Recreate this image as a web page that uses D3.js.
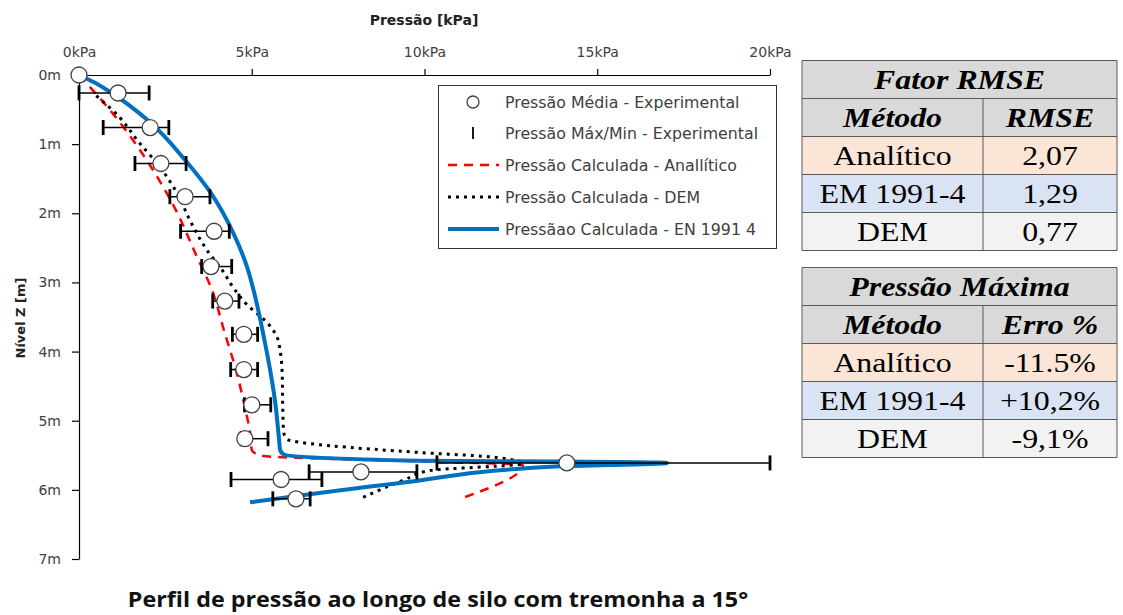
<!DOCTYPE html>
<html><head><meta charset="utf-8">
<script src="https://cdn.jsdelivr.net/npm/d3@7"></script>
<style>
body{margin:0;background:#fff;}
svg{display:block;}
</style></head>
<body>
<svg id="chart" width="1123" height="615"></svg>
<script>
// ---- data ----
const xTicks = [0, 5, 10, 15, 20];           // kPa
const yTicks = [0, 1, 2, 3, 4, 5, 6, 7];     // m
// experimental: mean pressure, depth, min, max
const expMean  = [0, 1.13, 2.06, 2.37, 3.07, 3.91, 3.82, 4.22, 4.77, 4.77, 5.0, 4.8, 14.12, 8.16, 5.85, 6.28];
const expDepth = [0, 0.26, 0.76, 1.28, 1.76, 2.26, 2.77, 3.27, 3.75, 4.26, 4.77, 5.26, 5.61, 5.74, 5.85, 6.13];
const expMin   = [0, 0, 0.7, 1.62, 2.63, 2.94, 3.55, 3.87, 4.44, 4.39, 4.79, 4.69, 10.36, 6.66, 4.4, 5.61];
const expMax   = [0, 2.03, 2.6, 3.1, 3.79, 4.35, 4.42, 4.63, 5.17, 5.17, 5.55, 5.47, 20.0, 9.78, 7.03, 6.69];
// analytical (red dashed)
const anaP = [0, 0.9, 1.56, 2.26, 2.84, 3.36, 3.85, 4.2, 4.55, 4.8, 4.95, 5.0, 5.18, 5.33, 9.87, 12.85, 11.03];
const anaZ = [0, 0.51, 0.94, 1.47, 1.99, 2.57, 3.11, 3.7, 4.28, 4.8, 5.17, 5.42, 5.49, 5.51, 5.59, 5.64, 6.13];
// DEM (black dotted)
const demP = [0.5, 1.19, 1.68, 2.34, 2.84, 3.21, 3.7, 4.14, 4.5, 4.86, 5.44, 5.76, 5.88, 5.9, 5.92, 6.0, 9.87, 11.84, 12.85, 10.16, 9.44, 8.22];
const demZ = [0.3, 0.62, 0.94, 1.33, 1.71, 2.1, 2.53, 2.82, 3.1, 3.32, 3.58, 3.83, 4.31, 4.88, 5.15, 5.26, 5.46, 5.52, 5.62, 5.72, 5.85, 6.11];
// EN 1991-4 (blue solid)
const enP = [0, 0.45, 0.9, 2.05, 3.07, 3.82, 4.46, 4.86, 5.12, 5.35, 5.53, 5.67, 5.79, 5.82, 5.93, 9.87, 13.92, 17.02, 13.92, 9.29, 4.95];
const enZ = [0, 0.11, 0.246, 0.68, 1.23, 1.71, 2.28, 2.77, 3.25, 3.79, 4.26, 4.70, 5.27, 5.42, 5.49, 5.58, 5.59, 5.61, 5.66, 5.90, 6.18];

const legendLabels = ["Pressão Média - Experimental", "Pressão Máx/Min - Experimental",
  "Pressão Calculada - Anallítico", "Pressão Calculada - DEM", "Pressãao Calculada - EN 1991 4"];

const rmseTitle = "Fator RMSE";
const rmseHeader = ["Método", "RMSE"];
const methods = ["Analítico", "EM 1991-4", "DEM"];
const rmseValues = ["2,07", "1,29", "0,77"];
const maxTitle = "Pressão Máxima";
const maxHeader = ["Método", "Erro %"];
const maxValues = ["-11.5%", "+10,2%", "-9,1%"];
const rowColors = ["#fbe5d6", "#dae3f3", "#f2f2f2"];

// ---- drawing ----
const svg = d3.select("#chart");
const x = d3.scaleLinear().domain([0, 20]).range([79, 770]);
const y = d3.scaleLinear().domain([0, 7]).range([75, 559]);
const labelFont = "'DejaVu Sans', sans-serif";
const textCol = "#404040";

// top axis
const xAxis = d3.axisTop(x).tickValues(xTicks).tickFormat(d => d + "kPa").tickSize(6).tickSizeOuter(0);
const gx = svg.append("g").attr("transform", "translate(0,75)").call(xAxis);
gx.select(".domain").attr("stroke", "#000").attr("stroke-width", 1.2);
gx.selectAll(".tick line").attr("stroke", "#000").attr("stroke-width", 1.2);
gx.selectAll(".tick text").attr("font-family", labelFont).attr("font-size", 14).attr("fill", textCol).attr("y", -18).attr("dy", 0);

// left axis
const yAxis = d3.axisLeft(y).tickValues(yTicks).tickFormat(d => d + "m").tickSize(7).tickSizeOuter(0);
const gy = svg.append("g").attr("transform", "translate(79,0)").call(yAxis);
gy.select(".domain").attr("stroke", "#000").attr("stroke-width", 1.2);
gy.selectAll(".tick line").attr("stroke", "#000").attr("stroke-width", 1.2);
gy.selectAll(".tick text").attr("font-family", labelFont).attr("font-size", 14).attr("fill", textCol).attr("dx", "-8");

// axis titles
svg.append("text").attr("x", 424).attr("y", 25).attr("text-anchor", "middle")
  .attr("font-family", labelFont).attr("font-weight", "bold").attr("font-size", 14).attr("fill", "#222")
  .text("Pressão [kPa]");
svg.append("text").attr("transform", "translate(25,318) rotate(-90)").attr("text-anchor", "middle")
  .attr("font-family", labelFont).attr("font-weight", "bold").attr("font-size", 13).attr("fill", "#222")
  .text("Nível Z [m]");

// chart title
svg.append("text").attr("transform", "translate(438,607) scale(1.06,1)").attr("text-anchor", "middle")
  .attr("font-family", "'Open Sans', sans-serif").attr("font-weight", "bold").attr("font-size", 22).attr("fill", "#111")
  .text("Perfil de pressão ao longo de silo com tremonha a 15°");

// curves
const mkLine = (P, Z) => d3.line().x((d, i) => x(P[i])).y((d, i) => y(Z[i])).curve(d3.curveMonotoneY)(P);
svg.append("path").attr("d", mkLine(anaP, anaZ)).attr("fill", "none")
  .attr("stroke", "#ff0000").attr("stroke-width", 2.5).attr("stroke-dasharray", "9,7");
svg.append("path").attr("d", mkLine(demP, demZ)).attr("fill", "none")
  .attr("stroke", "#000").attr("stroke-width", 3).attr("stroke-dasharray", "3,5");
svg.append("path").attr("d", mkLine(enP, enZ)).attr("fill", "none")
  .attr("stroke", "#0070c0").attr("stroke-width", 4).attr("stroke-linejoin", "round");

// error bars
const eb = svg.append("g");
expMean.forEach((m, i) => {
  const yy = y(expDepth[i]);
  eb.append("line").attr("x1", x(expMin[i])).attr("x2", x(expMax[i])).attr("y1", yy).attr("y2", yy)
    .attr("stroke", "#000").attr("stroke-width", 1.5);
  [expMin[i], expMax[i]].forEach(v => {
    eb.append("line").attr("x1", x(v)).attr("x2", x(v)).attr("y1", yy - 7.5).attr("y2", yy + 7.5)
      .attr("stroke", "#000").attr("stroke-width", 2.8);
  });
});
// circles
svg.append("g").selectAll("circle").data(expMean).join("circle")
  .attr("cx", (d) => x(d)).attr("cy", (d, i) => y(expDepth[i])).attr("r", 8)
  .attr("fill", "#fff").attr("stroke", "#404040").attr("stroke-width", 1.3);

// legend
const lg = svg.append("g");
lg.append("rect").attr("x", 438.5).attr("y", 85.5).attr("width", 338).attr("height", 163)
  .attr("fill", "#fff").attr("stroke", "#333").attr("stroke-width", 1);
const ly = [102, 133, 165, 197, 229];
lg.append("circle").attr("cx", 473).attr("cy", ly[0]).attr("r", 6).attr("fill", "#fff").attr("stroke", "#404040").attr("stroke-width", 1.3);
lg.append("line").attr("x1", 473).attr("x2", 473).attr("y1", ly[1] - 6).attr("y2", ly[1] + 6).attr("stroke", "#000").attr("stroke-width", 1.8);
lg.append("line").attr("x1", 448).attr("x2", 499).attr("y1", ly[2]).attr("y2", ly[2]).attr("stroke", "#ff0000").attr("stroke-width", 2.5).attr("stroke-dasharray", "9,7");
lg.append("line").attr("x1", 448).attr("x2", 499).attr("y1", ly[3]).attr("y2", ly[3]).attr("stroke", "#000").attr("stroke-width", 3).attr("stroke-dasharray", "3,5");
lg.append("line").attr("x1", 448).attr("x2", 499).attr("y1", ly[4]).attr("y2", ly[4]).attr("stroke", "#0070c0").attr("stroke-width", 4);
legendLabels.forEach((t, i) => {
  lg.append("text").attr("x", 505).attr("y", ly[i] + 5.5).attr("font-family", labelFont)
    .attr("font-size", 15.8).attr("fill", textCol).text(t);
});

// tables
function drawTable(top, title, header, col2) {
  const g = svg.append("g");
  const x0 = 802, x1 = 983, x2 = 1117, rh = 38;
  const serif = "'Liberation Serif', 'Times New Roman', serif";
  const rows = [title, header].concat(methods.map((m, i) => [m, col2[i]]));
  rows.forEach((r, i) => {
    const fill = i < 2 ? "#d9d9d9" : rowColors[i - 2];
    g.append("rect").attr("x", x0).attr("y", top + i * rh).attr("width", x2 - x0).attr("height", rh).attr("fill", fill);
  });
  const txt = (cx, cy, s, emph) => g.append("text")
    .attr("transform", `translate(${cx},${cy}) scale(1.18,1)`).attr("text-anchor", "middle")
    .attr("font-family", serif).attr("font-style", emph ? "italic" : "normal")
    .attr("font-weight", emph ? "bold" : "normal").attr("font-size", 27).attr("fill", "#000").text(s);
  txt((x0 + x2) / 2, top + rh / 2 + 9, title, true);
  header.forEach((h, j) => txt(j === 0 ? (x0 + x1) / 2 : (x1 + x2) / 2, top + rh * 1.5 + 9, h, true));
  methods.forEach((m, i) => {
    const yy = top + rh * (2.5 + i) + 9;
    txt((x0 + x1) / 2, yy, m, false);
    txt((x1 + x2) / 2, yy, col2[i], false);
  });
  const ln = (a, b, c, d) => g.append("line").attr("x1", a).attr("y1", b).attr("x2", c).attr("y2", d).attr("stroke", "#595959").attr("stroke-width", 1);
  for (let i = 0; i <= 5; i++) ln(x0, top + i * rh, x2, top + i * rh);
  ln(x0, top, x0, top + 5 * rh); ln(x2, top, x2, top + 5 * rh);
  ln(x1, top + rh, x1, top + 5 * rh);
}
drawTable(60.5, rmseTitle, rmseHeader, rmseValues);
drawTable(267.5, maxTitle, maxHeader, maxValues);
</script>
</body></html>
